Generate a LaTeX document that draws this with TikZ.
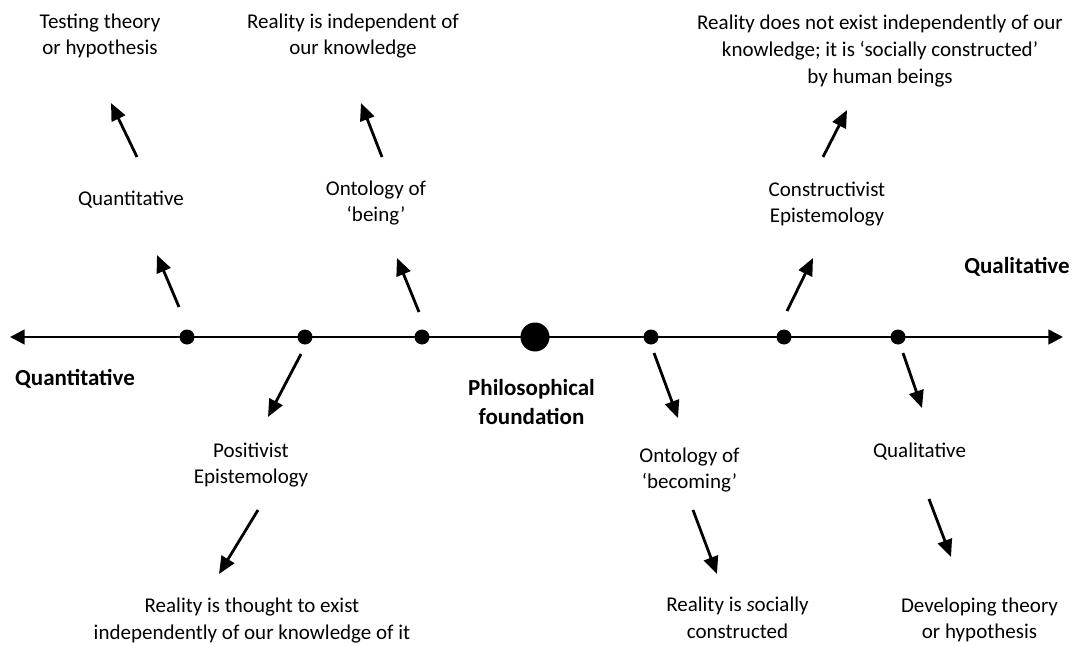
\documentclass[tikz,border=0pt]{standalone}
\usepackage{fontspec}
\setmainfont{Carlito}
\usetikzlibrary{arrows.meta}
\begin{document}
\begin{tikzpicture}[x=0.75pt,y=-0.75pt,
  lbl/.style={align=center,inner sep=0pt,font=\fontsize{15.75pt}{20pt}\selectfont},
  hdr/.style={align=center,inner sep=0pt,font=\fontsize{17.25pt}{21.75pt}\selectfont\bfseries},
  dot/.style={circle,fill=black,inner sep=0pt,minimum size=11.25pt},
  bigdot/.style={circle,fill=black,inner sep=0pt,minimum size=21.75pt},
  axis/.style={line width=2pt,{Triangle[length=11pt,width=11pt]}-{Triangle[length=11pt,width=11pt]}},
  link/.style={line width=2.1pt,-{Triangle[length=13pt,width=11pt]}}]
\useasboundingbox (0,0) rectangle (1076,646);

% main axis
\coordinate (axL) at (10,337);
\coordinate (axR) at (1063,337);
\draw[axis] (axL) -- (axR);

% points on the axis
\node[dot] (d1) at (187,337) {};
\node[dot] (d2) at (305,337) {};
\node[dot] (d3) at (422,337) {};
\node[bigdot] (dc) at (535,337) {};
\node[dot] (d5) at (651,337) {};
\node[dot] (d6) at (784,337) {};
\node[dot] (d7) at (898,337) {};

% end labels
\node[hdr] (quant) at (75,379) {Quantitative};
\node[hdr] (qual) at (1017,267) {Qualitative};
\node[hdr] (phil) at (531.5,402) {Philosophical\\foundation};

% upper branches
\node[lbl] (qn) at (131,199.5) {Quantitative};
\node[lbl] (test) at (100,36) {Testing theory\\or hypothesis};
\node[lbl] (being) at (376,203) {Ontology of\\‘being’};
\node[lbl] (indep) at (353,36) {Reality is independent of\\our knowledge};
\node[lbl] (constr) at (827,204) {Constructivist\\Epistemology};
\node[lbl] (social) at (880,51) {Reality does not exist independently of our\\knowledge; it is ‘socially constructed’\\by human beings};

% lower branches
\node[lbl] (posit) at (251,465) {Positivist\\Epistemology};
\node[lbl] (thought) at (252,620.5) {Reality is thought to exist\\independently of our knowledge of it};
\node[lbl] (becom) at (689.5,470) {Ontology of\\‘becoming’};
\node[lbl] (socc) at (737.5,617.5) {Reality is \textit{s}ocially\\constructed};
\node[lbl] (ql) at (919.5,451.5) {Qualitative};
\node[lbl] (devel) at (979.5,620) {Developing theory\\or hypothesis};

% arrow end points
\coordinate (a1s) at (179,307);  \coordinate (a1e) at (157,255);
\coordinate (a2s) at (137,157);  \coordinate (a2e) at (111,103);
\coordinate (a3s) at (419,312);  \coordinate (a3e) at (397,258);
\coordinate (a4s) at (382,157);  \coordinate (a4e) at (361,103);
\coordinate (a5s) at (301,354);  \coordinate (a5e) at (268,417);
\coordinate (a6s) at (258,510);  \coordinate (a6e) at (219,574);
\coordinate (a7s) at (654,353);  \coordinate (a7e) at (678,418);
\coordinate (a8s) at (693,510);  \coordinate (a8e) at (717,574);
\coordinate (a9s) at (787,311);  \coordinate (a9e) at (813,258);
\coordinate (a10s) at (823,157); \coordinate (a10e) at (847,110);
\coordinate (a11s) at (903,353); \coordinate (a11e) at (922,408);
\coordinate (a12s) at (929,499); \coordinate (a12e) at (951,557);

\foreach \i in {1,...,12} \draw[link] (a\i s) -- (a\i e);
\end{tikzpicture}
\end{document}
